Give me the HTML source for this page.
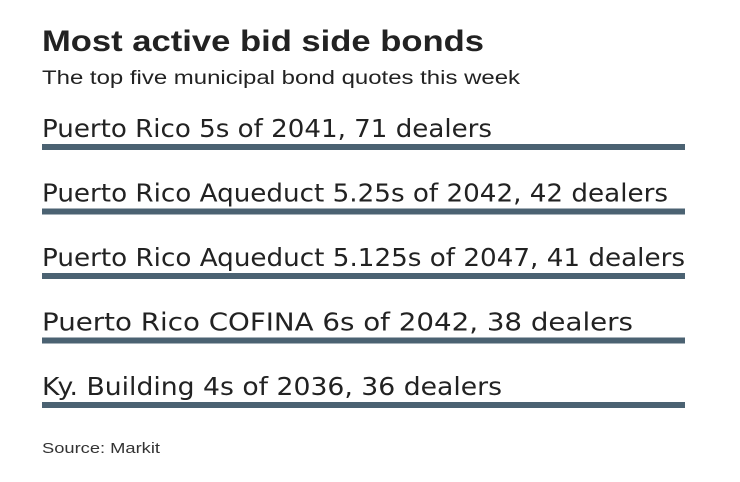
<!DOCTYPE html>
<html><head><meta charset="utf-8"><style>
body{margin:0;background:#fff;width:740px;height:482px;overflow:hidden}
svg{display:block}
</style></head><body>
<svg id="c" width="740" height="482">
<text x="42" y="51" font-family="'Liberation Sans',sans-serif" font-weight="bold" font-size="30" fill="#222" textLength="442" lengthAdjust="spacingAndGlyphs">Most active bid side bonds</text>
<text x="42" y="84" font-family="'Liberation Sans',sans-serif" font-size="19" fill="#222" textLength="478" lengthAdjust="spacingAndGlyphs">The top five municipal bond quotes this week</text>
<text x="42" y="453" font-family="'Liberation Sans',sans-serif" font-size="15" fill="#333" textLength="118" lengthAdjust="spacingAndGlyphs">Source: Markit</text>
</svg>
<script>
const names=["Puerto Rico 5s of 2041","Puerto Rico Aqueduct 5.25s of 2042","Puerto Rico Aqueduct 5.125s of 2047","Puerto Rico COFINA 6s of 2042","Ky. Building 4s of 2036"];
const dealers=[71,42,41,38,36];
const widths=[450,626,643,591,460];
const svg=document.getElementById('c');
const NS='http://www.w3.org/2000/svg';
const y0=144,step=64.5;
names.forEach((n,i)=>{
  const y=y0+i*step;
  const t=document.createElementNS(NS,'text');
  t.setAttribute('x',42);t.setAttribute('y',y-7);
  t.setAttribute('font-family',"'DejaVu Sans',sans-serif");
  t.setAttribute('font-size','25');t.setAttribute('fill','#222');
  t.setAttribute('textLength',widths[i]);t.setAttribute('lengthAdjust','spacingAndGlyphs');
  t.textContent=n+', '+dealers[i]+' dealers';
  
  
  svg.appendChild(t);
  const r=document.createElementNS(NS,'rect');
  r.setAttribute('x',42);r.setAttribute('y',y);
  r.setAttribute('width',643);r.setAttribute('height',6);
  r.setAttribute('fill','#4b6272');
  
  
  svg.appendChild(r);
});
</script>
</body></html>
